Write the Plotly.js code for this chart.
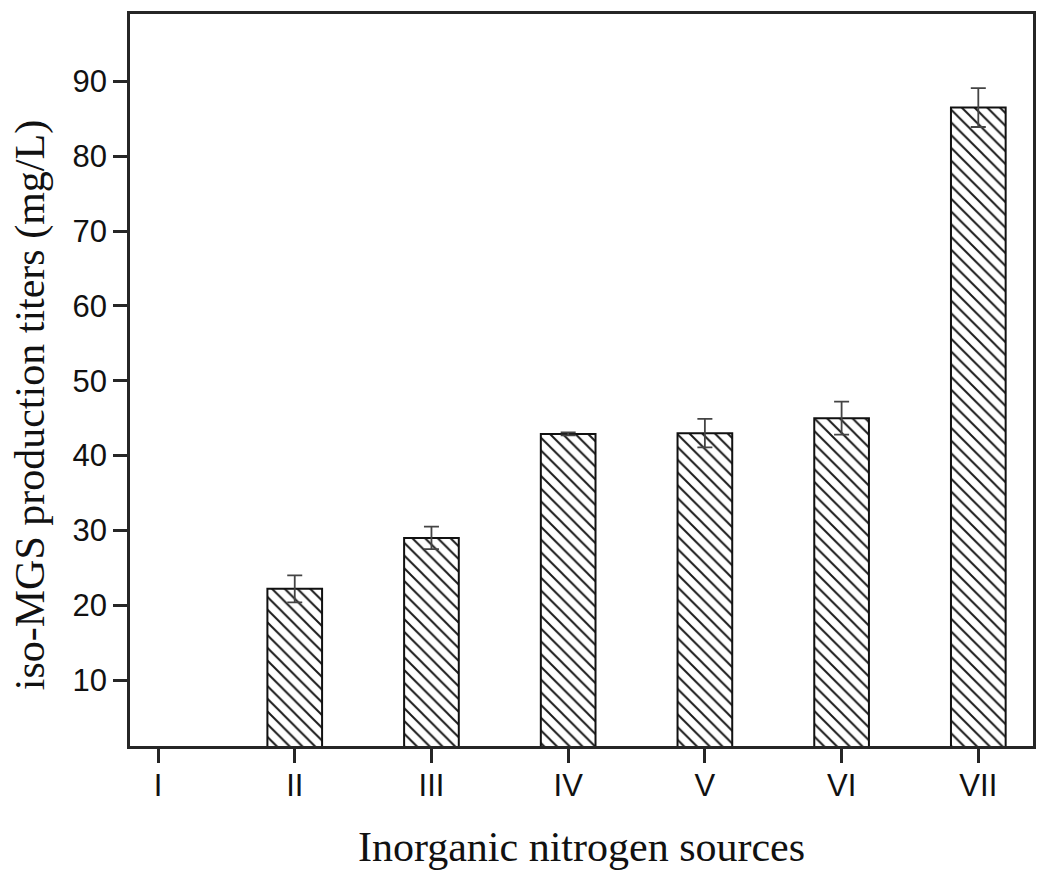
<!DOCTYPE html>
<html>
<head>
<meta charset="utf-8">
<script src="https://cdn.plot.ly/plotly-3.0.1.min.js"></script>
<style>
  html, body { margin: 0; padding: 0; background: #fff; }
  #chart { width: 1050px; height: 878px; }
</style>
</head>
<body>
<div id="chart"></div>
<script>
// nitrogen source categories and measured titers (mg/L)
const sources = ["I", "II", "III", "IV", "V", "VI", "VII"];
const titers = [0, 22.2, 29.0, 42.9, 43.0, 45.0, 86.5];
const errors = [0, 1.8, 1.5, 0.2, 1.9, 2.2, 2.6];

const yTicks = [10, 20, 30, 40, 50, 60, 70, 80, 90];

const trace = {
  x: sources,
  y: titers,
  type: 'bar',
  width: 0.4,
  marker: {
    color: '#ffffff',
    line: { color: '#111111', width: 2 },
    pattern: { shape: '\\', size: 9, solidity: 0.22, fgcolor: '#1a1a1a', bgcolor: '#ffffff' }
  },
  error_y: {
    type: 'data',
    array: errors,
    visible: true,
    color: '#444444',
    thickness: 1.8,
    width: 7.5
  },
  hoverinfo: 'x+y'
};

const axisLine = { showline: true, linecolor: '#262626', linewidth: 2.5, mirror: true };

const layout = {
  width: 1050,
  height: 878,
  margin: { l: 130, r: 17, t: 14, b: 132 },
  paper_bgcolor: '#ffffff',
  plot_bgcolor: '#ffffff',
  showlegend: false,
  font: { family: 'Liberation Sans, Arial, sans-serif', color: '#111111', size: 31 },
  xaxis: Object.assign({
    type: 'category',
    range: [-0.205, 6.4],
    ticks: 'outside',
    ticklen: 14,
    tickwidth: 2.5,
    tickcolor: '#262626',
    ticklabelstandoff: -4,
    showgrid: false,
    zeroline: false,
    tickfont: { size: 31 }
  }, axisLine),
  yaxis: Object.assign({
    range: [1.2, 99],
    tickvals: yTicks,
    ticktext: yTicks.map(String),
    ticks: 'outside',
    ticklen: 14,
    tickwidth: 2.5,
    tickcolor: '#262626',
    showgrid: false,
    zeroline: false,
    tickfont: { size: 31 }
  }, axisLine),
  annotations: [
    {
      text: 'Inorganic nitrogen sources',
      xref: 'paper', yref: 'paper',
      x: 0.5, y: -0.138,
      xanchor: 'center', yanchor: 'middle',
      showarrow: false,
      font: { family: 'Liberation Serif, Times New Roman, serif', size: 42, color: '#111111' }
    },
    {
      text: 'iso-MGS production titers (mg/L)',
      xref: 'paper', yref: 'paper',
      x: -0.11, y: 0.465,
      xanchor: 'center', yanchor: 'middle',
      textangle: -90,
      showarrow: false,
      font: { family: 'Liberation Serif, Times New Roman, serif', size: 42, color: '#111111' }
    }
  ]
};

Plotly.newPlot('chart', [trace], layout, { displayModeBar: false });
</script>
</body>
</html>
